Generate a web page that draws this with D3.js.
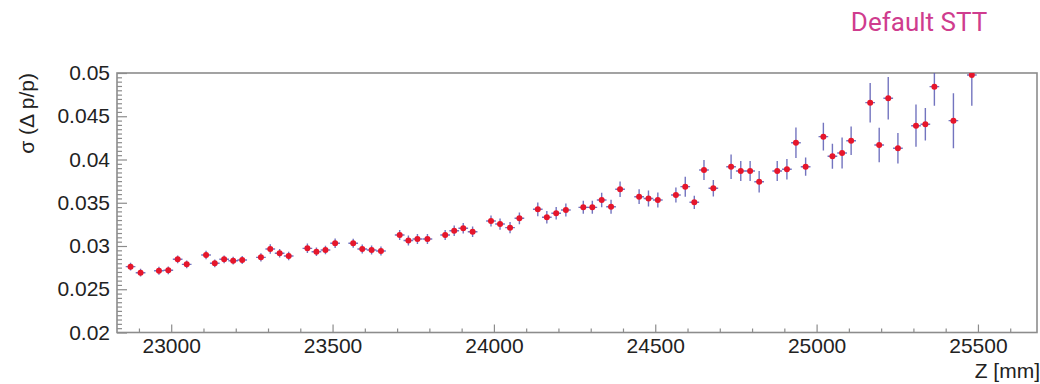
<!DOCTYPE html>
<html>
<head>
<meta charset="utf-8">
<script src="https://cdn.jsdelivr.net/npm/d3@7"></script>
<style>
  html, body { margin: 0; padding: 0; background: #fff; }
  svg { display: block; }
  .tick text { font-family: "Liberation Sans", Arial, sans-serif; font-size: 21px; fill: #222; }
</style>
</head>
<body>
<svg id="chart" width="1040" height="384"></svg>
<script>
// Momentum resolution versus Z position
const zPos = [
  22874, 22905, 22962, 22991, 23020, 23048, 23108, 23135, 23164, 23192,
  23220, 23278, 23307, 23336, 23364, 23422, 23450, 23478, 23508, 23564,
  23592, 23621, 23650, 23708, 23735, 23763, 23794, 23849, 23877, 23905,
  23934, 23991, 24019, 24050, 24079, 24136, 24164, 24193, 24223, 24277,
  24305, 24334, 24363, 24391, 24450, 24479, 24508, 24564, 24593, 24621,
  24651, 24680, 24735, 24765, 24794, 24822, 24878, 24908, 24936, 24966,
  25021, 25049, 25079, 25107, 25166, 25194, 25222, 25252, 25308, 25337,
  25365, 25424, 25481
];
const sigma = [
  0.02761, 0.02691, 0.02714, 0.02719, 0.02846, 0.02788, 0.02896, 0.02800, 0.02846, 0.02830,
  0.02838, 0.02869, 0.02965, 0.02916, 0.02884, 0.02973, 0.02934, 0.02954, 0.03031, 0.03031,
  0.02965, 0.02954, 0.02942, 0.03127, 0.03064, 0.03081, 0.03081, 0.03127, 0.03177, 0.03205,
  0.03165, 0.03289, 0.03254, 0.03212, 0.03320, 0.03424, 0.03332, 0.03378, 0.03416, 0.03447,
  0.03447, 0.03532, 0.03454, 0.03656, 0.03570, 0.03549, 0.03532, 0.03590, 0.03686, 0.03505,
  0.03879, 0.03667, 0.03917, 0.03867, 0.03867, 0.03743, 0.03867, 0.03887, 0.04194, 0.03917,
  0.04264, 0.04037, 0.04075, 0.04217, 0.04657, 0.04168, 0.04708, 0.04130, 0.04391, 0.04407,
  0.04842, 0.04449, 0.04977
];
const sigmaErr = [
  0.00045, 0.00045, 0.00045, 0.00045, 0.00045, 0.00045, 0.00048, 0.00045, 0.00045, 0.00045,
  0.00045, 0.00048, 0.00055, 0.00050, 0.00050, 0.00055, 0.00050, 0.00050, 0.00055, 0.00052,
  0.00052, 0.00052, 0.00052, 0.00058, 0.00058, 0.00058, 0.00058, 0.00058, 0.00060, 0.00060,
  0.00060, 0.00065, 0.00065, 0.00065, 0.00068, 0.00080, 0.00072, 0.00072, 0.00075, 0.00075,
  0.00075, 0.00085, 0.00080, 0.00090, 0.00085, 0.00092, 0.00087, 0.00087, 0.00116, 0.00077,
  0.00116, 0.00096, 0.00142, 0.00116, 0.00116, 0.00125, 0.00116, 0.00119, 0.00177, 0.00106,
  0.00160, 0.00145, 0.00180, 0.00165, 0.00228, 0.00200, 0.00245, 0.00177, 0.00245, 0.00187,
  0.00222, 0.00318, 0.00355
];
const zHalfWidth = 15;

const yMajorTicks = [0.02, 0.025, 0.03, 0.035, 0.04, 0.045, 0.05];
const yTickLabels = ["0.02", "0.025", "0.03", "0.035", "0.04", "0.045", "0.05"];
const xMajorTicks = [23000, 23500, 24000, 24500, 25000, 25500];
const xTickLabels = ["23000", "23500", "24000", "24500", "25000", "25500"];

const titleText = "Default STT";
const xTitle = "Z [mm]";
const yTitle = "σ (Δ p/p)";

const frame = { left: 117, right: 1037, top: 73, bottom: 332.5 };
const frameColor = "#8c8c8c";

const svg = d3.select("#chart");

const x = d3.scaleLinear().domain([22832, 25683]).range([frame.left, frame.right]);
const y = d3.scaleLinear().domain([0.02, 0.05]).range([frame.bottom, frame.top]);

// minor tick positions
const xMinor = d3.range(22900, 25700, 100).filter(v => v % 500 !== 0);
const yMinor = d3.range(0, 61).map(i => +(0.02 + i * 0.0005).toFixed(5))
  .filter(v => yMajorTicks.indexOf(v) < 0);

// x axis
const gx = svg.append("g").attr("transform", `translate(0,${frame.bottom})`);
gx.call(d3.axisBottom(x).tickValues(xMinor).tickSize(-4).tickFormat(""));
gx.append("g").call(d3.axisBottom(x).tickValues(xMajorTicks).tickSize(-8).tickPadding(6)
  .tickFormat((d, i) => xTickLabels[i]));

// y axis
const gy = svg.append("g").attr("transform", `translate(${frame.left},0)`);
gy.call(d3.axisLeft(y).tickValues(yMinor).tickSize(-5).tickFormat(""));
gy.append("g").call(d3.axisLeft(y).tickValues(yMajorTicks).tickSize(-10).tickPadding(7)
  .tickFormat((d, i) => yTickLabels[i]));

svg.selectAll(".domain").remove();
svg.selectAll(".tick line").attr("stroke", frameColor).attr("stroke-width", 1.2);

// frame
svg.append("rect")
  .attr("x", frame.left).attr("y", frame.top)
  .attr("width", frame.right - frame.left).attr("height", frame.bottom - frame.top)
  .attr("fill", "none").attr("stroke", frameColor).attr("stroke-width", 1.6);

// clipping region for the data
svg.append("clipPath").attr("id", "plotClip")
  .append("rect")
  .attr("x", frame.left).attr("y", frame.top)
  .attr("width", frame.right - frame.left).attr("height", frame.bottom - frame.top);

const points = zPos.map((z, i) => ({ z, s: sigma[i], e: sigmaErr[i] }));
const gData = svg.append("g").attr("clip-path", "url(#plotClip)");

const barColor = "#5a5cb4";
gData.selectAll("line.ey").data(points).join("line")
  .attr("class", "ey")
  .attr("x1", d => x(d.z)).attr("x2", d => x(d.z))
  .attr("y1", d => y(d.s - d.e)).attr("y2", d => y(d.s + d.e))
  .attr("stroke", barColor).attr("stroke-width", 1.4).attr("stroke-opacity", 0.85);

gData.selectAll("line.ex").data(points).join("line")
  .attr("class", "ex")
  .attr("x1", d => x(d.z - zHalfWidth)).attr("x2", d => x(d.z + zHalfWidth))
  .attr("y1", d => y(d.s)).attr("y2", d => y(d.s))
  .attr("stroke", barColor).attr("stroke-width", 1.4).attr("stroke-opacity", 0.85);

gData.selectAll("circle").data(points).join("circle")
  .attr("cx", d => x(d.z)).attr("cy", d => y(d.s)).attr("r", 3)
  .attr("fill", "#e6162b");

// titles
svg.append("text")
  .attr("x", 1040).attr("y", 378)
  .attr("text-anchor", "end")
  .style("font-family", "'Liberation Sans', Arial, sans-serif")
  .style("font-size", "21px").attr("fill", "#222")
  .text(xTitle);

svg.append("text")
  .attr("transform", `translate(34,${frame.top}) rotate(-90)`)
  .attr("text-anchor", "end")
  .style("font-family", "'Liberation Sans', Arial, sans-serif")
  .style("font-size", "21px").attr("fill", "#222")
  .text(yTitle);

svg.append("text")
  .attr("x", 919).attr("y", 31)
  .attr("text-anchor", "middle")
  .style("font-family", "Roboto, 'Liberation Sans', sans-serif")
  .style("font-size", "26px").attr("fill", "#cf3c8e")
  .text(titleText);
</script>
</body>
</html>
